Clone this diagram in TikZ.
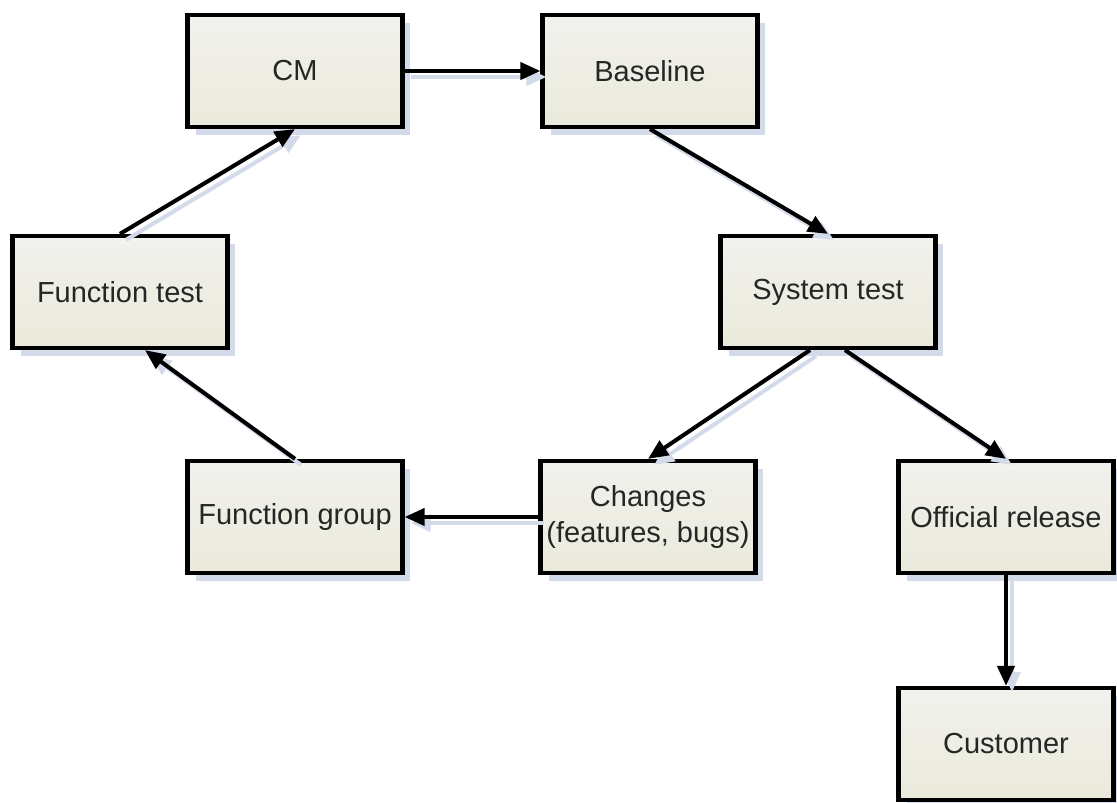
\documentclass[tikz,border=0pt]{standalone}
\usepackage{fontspec}
\setmainfont{Liberation Sans}
\usetikzlibrary{arrows.meta,shadows}
\definecolor{boxfillA}{HTML}{F1F1EE}
\definecolor{boxfillB}{HTML}{EAEADB}
\definecolor{shadowc}{HTML}{D3DBEA}
\definecolor{txtc}{HTML}{262626}
\begin{document}
\begin{tikzpicture}[x=0.02cm,y=-0.02cm,
  stepbox/.style={draw=black, line width=2.4pt, top color=boxfillA, bottom color=boxfillB,
    minimum width=4.3cm, minimum height=2.24cm, align=center, text=txtc,
    font=\fontsize{16.5}{20}\selectfont,
    drop shadow={shadow xshift=0.16cm, shadow yshift=-0.16cm, fill=shadowc, opacity=1}},
  conn/.style={line width=2.3pt, -{Triangle[length=0.4cm,width=0.34cm]}},
  connshadow/.style={line width=2.3pt, draw=shadowc, -{Triangle[length=0.4cm,width=0.34cm]},
    transform canvas={shift={(0.12cm,-0.12cm)}}}]
\useasboundingbox (0,0) rectangle (1117,803);
\node[stepbox] (cm) at (295,71) {CM};
\node[stepbox] (base) at (650,71) {Baseline};
\node[stepbox] (ft) at (120,292) {Function test};
\node[stepbox] (st) at (828,292) {System test};
\node[stepbox] (fg) at (295,517) {Function group};
\node[stepbox] (ch) at (648,517) {Changes\\(features, bugs)};
\node[stepbox] (or) at (1006,517) {Official release};
\node[stepbox] (cu) at (1006,744) {Customer};
% arrow shadows
\draw[connshadow] (cm.east) -- (base.west);
\draw[connshadow] (base.south) -- (st.north);
\draw[connshadow] ([xshift=-0.36cm]st.south) -- (ch.north);
\draw[connshadow] ([xshift=0.34cm]st.south) -- (or.north);
\draw[connshadow] (ch.west) -- (fg.east);
\draw[connshadow] (fg.north) -- ([xshift=0.5cm]ft.south);
\draw[connshadow] (ft.north) -- (cm.south);
\draw[connshadow] (or.south) -- (cu.north);
% arrows
\draw[conn] (cm.east) -- (base.west);
\draw[conn] (base.south) -- (st.north);
\draw[conn] ([xshift=-0.36cm]st.south) -- (ch.north);
\draw[conn] ([xshift=0.34cm]st.south) -- (or.north);
\draw[conn] (ch.west) -- (fg.east);
\draw[conn] (fg.north) -- ([xshift=0.5cm]ft.south);
\draw[conn] (ft.north) -- (cm.south);
\draw[conn] (or.south) -- (cu.north);
\end{tikzpicture}
\end{document}
